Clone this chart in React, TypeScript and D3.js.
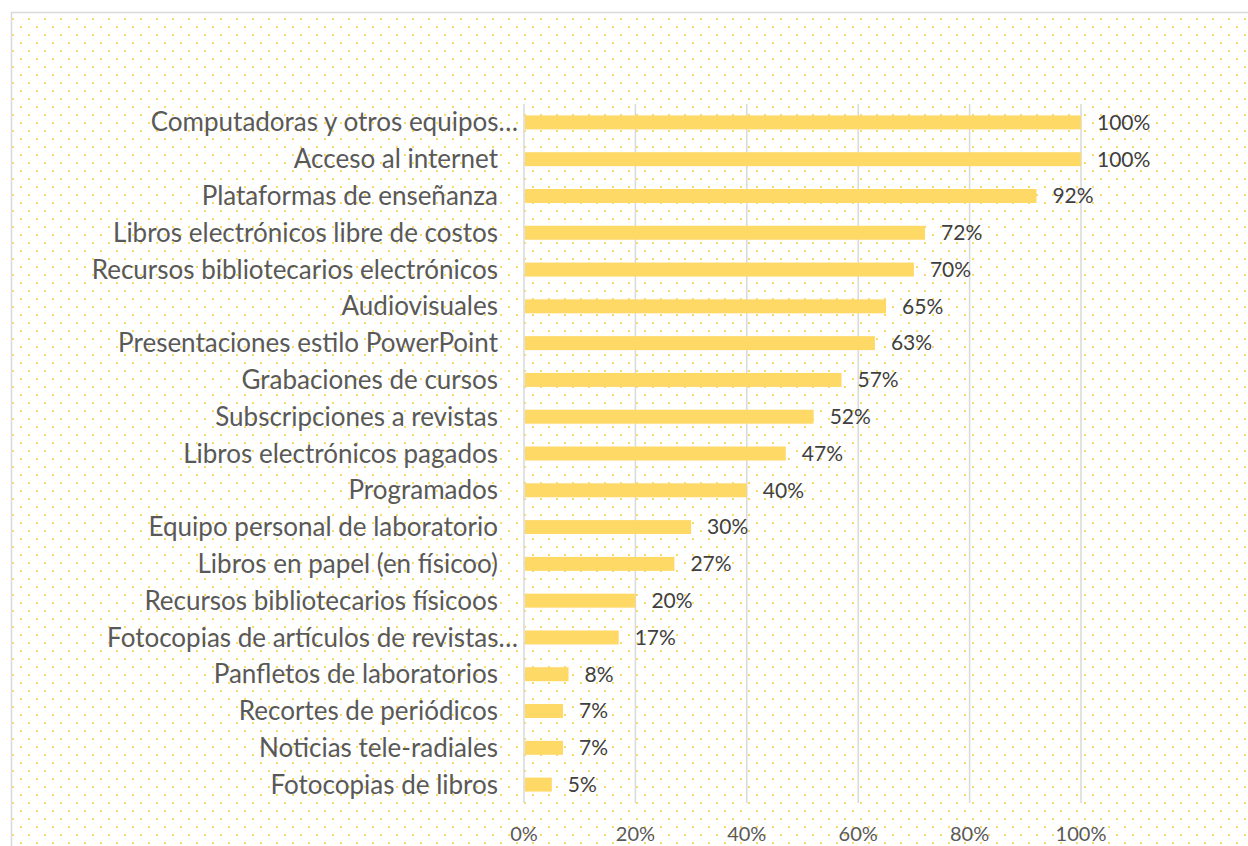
import { useEffect, useRef } from 'react';
import * as d3 from 'd3';

const categories = [
  'Computadoras y otros equipos…',
  'Acceso al internet',
  'Plataformas de enseñanza',
  'Libros electrónicos libre de costos',
  'Recursos bibliotecarios electrónicos',
  'Audiovisuales',
  'Presentaciones estilo PowerPoint',
  'Grabaciones de cursos',
  'Subscripciones a revistas',
  'Libros electrónicos pagados',
  'Programados',
  'Equipo personal de laboratorio',
  'Libros en papel (en físicoo)',
  'Recursos bibliotecarios físicoos',
  'Fotocopias de artículos de revistas…',
  'Panfletos de laboratorios',
  'Recortes de periódicos',
  'Noticias tele-radiales',
  'Fotocopias de libros',
];

const values = [1.0, 1.0, 0.92, 0.72, 0.7, 0.65, 0.63, 0.57, 0.52, 0.47, 0.4, 0.3, 0.27, 0.2, 0.17, 0.08, 0.07, 0.07, 0.05];

const xTicks = [0, 0.2, 0.4, 0.6, 0.8, 1.0];

const W = 1248;
const H = 846;
const FONT = 'Lato, "Open Sans", sans-serif';

export default function App() {
  const svgRef = useRef<SVGSVGElement>(null);

  useEffect(() => {
    if (!svgRef.current) return;
    const svg = d3.select(svgRef.current);
    svg.selectAll('*').remove();

    // dotted background pattern
    const defs = svg.append('defs');
    const pat = defs.append('pattern')
      .attr('id', 'dots')
      .attr('patternUnits', 'userSpaceOnUse')
      .attr('width', 16)
      .attr('height', 16);
    pat.append('rect').attr('width', 16).attr('height', 16).attr('fill', '#ffffff');
    pat.append('rect').attr('x', 12).attr('y', 2).attr('width', 2).attr('height', 2).attr('fill', '#FFD966');
    pat.append('rect').attr('x', 4).attr('y', 10).attr('width', 2).attr('height', 2).attr('fill', '#FFD966');

    svg.append('rect').attr('width', W).attr('height', H).attr('fill', '#ffffff');
    svg.append('rect')
      .attr('x', 11.5).attr('y', 12.5)
      .attr('width', W + 20).attr('height', H + 20)
      .attr('fill', 'url(#dots)')
      .attr('stroke', '#D9D9D9')
      .attr('stroke-width', 1.5);

    const left = 524;
    const right = 1081;
    const top = 104;
    const bottom = 803;

    const x = d3.scaleLinear().domain([0, 1]).range([left, right]);
    const y = d3.scaleBand<string>().domain(categories).range([top, bottom]).paddingInner(0.62).paddingOuter(0.31);

    // gridlines
    svg.append('g')
      .selectAll('line')
      .data(xTicks)
      .join('line')
      .attr('x1', d => x(d))
      .attr('x2', d => x(d))
      .attr('y1', top)
      .attr('y2', bottom)
      .attr('stroke', '#D9D9D9')
      .attr('stroke-width', 1.5);

    // bars
    svg.append('g')
      .selectAll('rect')
      .data(values)
      .join('rect')
      .attr('x', x(0) + 1)
      .attr('y', (d, i) => y(categories[i])!)
      .attr('width', d => x(d) - x(0) - 1)
      .attr('height', y.bandwidth())
      .attr('fill', '#FFD966');

    // data labels
    svg.append('g')
      .selectAll('text')
      .data(values)
      .join('text')
      .attr('x', d => x(d) + 16)
      .attr('y', (d, i) => y(categories[i])! + y.bandwidth() / 2)
      .attr('dy', '0.35em')
      .attr('font-family', FONT)
      .attr('font-size', '21px')
      .attr('fill', '#404040')
      .text(d => d3.format('.0%')(d));

    // category labels
    svg.append('g')
      .selectAll('text')
      .data(categories)
      .join('text')
      .attr('x', d => (d.endsWith('…') ? 518 : 498))
      .attr('y', d => y(d)! + y.bandwidth() / 2)
      .attr('dy', '0.35em')
      .attr('text-anchor', 'end')
      .attr('font-family', FONT)
      .attr('font-size', '26px')
      .attr('fill', '#595959')
      .text(d => d);

    // x axis tick labels
    svg.append('g')
      .selectAll('text')
      .data(xTicks)
      .join('text')
      .attr('x', d => x(d))
      .attr('y', 834)
      .attr('dy', '0.35em')
      .attr('text-anchor', 'middle')
      .attr('font-family', FONT)
      .attr('font-size', '20px')
      .attr('fill', '#595959')
      .text(d => d3.format('.0%')(d));
  }, []);

  return (
    <div style={{ position: 'absolute', left: 0, top: 0 }}>
      <svg ref={svgRef} width={W} height={H} style={{ display: 'block' }}></svg>
    </div>
  );
}
